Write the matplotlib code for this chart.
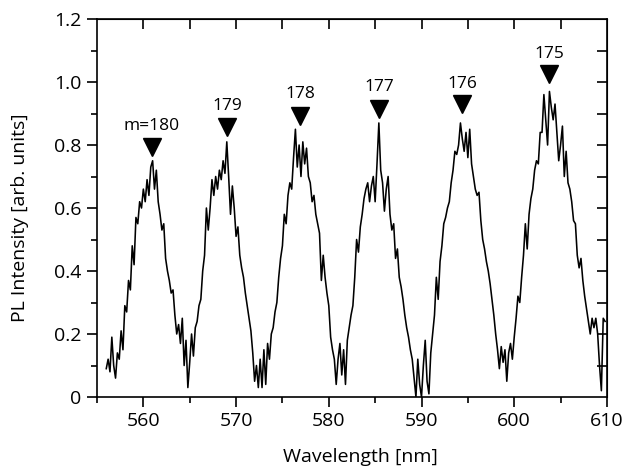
import numpy as np
import matplotlib
matplotlib.use("Agg")
import matplotlib.pyplot as plt
from matplotlib.ticker import FixedLocator, FuncFormatter, MultipleLocator

plt.rcParams['font.family'] = ['Open Sans', 'DejaVu Sans']

# Spectrum sampled every 0.2 nm from 556.0 nm
wl_start, wl_step = 556.0, 0.2
intensity = [
    0.09, 0.12, 0.08, 0.19, 0.10,
    0.06, 0.14, 0.12, 0.21, 0.15,
    0.29, 0.27, 0.37, 0.34, 0.48,
    0.42, 0.57, 0.55, 0.62, 0.60,
    0.66, 0.62, 0.69, 0.64, 0.73,
    0.75, 0.66, 0.72, 0.62, 0.58,
    0.53, 0.55, 0.44, 0.40, 0.37,
    0.33, 0.34, 0.26, 0.20, 0.23,
    0.17, 0.25, 0.10, 0.18, 0.03,
    0.11, 0.20, 0.13, 0.22, 0.24,
    0.29, 0.31, 0.40, 0.45, 0.60,
    0.53, 0.60, 0.69, 0.64, 0.70,
    0.66, 0.72, 0.69, 0.75, 0.71,
    0.81, 0.70, 0.58, 0.67, 0.60,
    0.51, 0.54, 0.45, 0.41, 0.38,
    0.33, 0.29, 0.25, 0.21, 0.14,
    0.05, 0.10, 0.03, 0.12, 0.03,
    0.15, 0.04, 0.17, 0.12, 0.20,
    0.22, 0.27, 0.30, 0.38, 0.44,
    0.48, 0.58, 0.55, 0.64, 0.68,
    0.66, 0.76, 0.85, 0.73, 0.80,
    0.70, 0.81, 0.74, 0.79, 0.70,
    0.68, 0.62, 0.64, 0.58, 0.55,
    0.52, 0.37, 0.45, 0.38, 0.33,
    0.29, 0.19, 0.15, 0.12, 0.04,
    0.12, 0.17, 0.07, 0.15, 0.04,
    0.18, 0.22, 0.26, 0.29, 0.38,
    0.50, 0.46, 0.54, 0.58, 0.63,
    0.66, 0.68, 0.62, 0.67, 0.70,
    0.62, 0.74, 0.87, 0.72, 0.68,
    0.59, 0.66, 0.70, 0.58, 0.53,
    0.55, 0.44, 0.47, 0.38, 0.35,
    0.31, 0.26, 0.22, 0.19, 0.15,
    0.12, 0.06, 0.00, 0.12, 0.04,
    0.00, 0.10, 0.18, 0.05, 0.01,
    0.14, 0.20, 0.26, 0.38, 0.31,
    0.43, 0.48, 0.55, 0.57, 0.60,
    0.62, 0.68, 0.72, 0.78, 0.77,
    0.80, 0.87, 0.82, 0.78, 0.84,
    0.76, 0.85, 0.74, 0.70, 0.66,
    0.64, 0.65, 0.56, 0.50, 0.47,
    0.43, 0.40, 0.36, 0.31, 0.26,
    0.20, 0.15, 0.09, 0.16, 0.11,
    0.15, 0.05, 0.14, 0.17, 0.12,
    0.19, 0.25, 0.32, 0.30, 0.38,
    0.45, 0.55, 0.47, 0.58, 0.63,
    0.66, 0.72, 0.75, 0.74, 0.84,
    0.84, 0.96, 0.88, 0.80, 0.97,
    0.92, 0.88, 0.93, 0.84, 0.75,
    0.80, 0.86, 0.70, 0.78, 0.68,
    0.66, 0.62, 0.56, 0.55, 0.45,
    0.41, 0.44, 0.37, 0.32, 0.28,
    0.24, 0.20, 0.25, 0.22, 0.25,
    0.20, 0.10, 0.02, 0.25, 0.24,
]
wavelength = wl_start + wl_step * np.arange(len(intensity))

peak_labels = ["m=180", "179", "178", "177", "176", "175"]
peak_wl = [560.9, 569.0, 576.9, 585.4, 594.4, 603.8]
marker_y = [0.795, 0.857, 0.893, 0.915, 0.929, 1.024]
label_y = [0.860, 0.924, 0.962, 0.983, 0.993, 1.088]

xticks = [560, 570, 580, 590, 600, 610]
yticks = [0, 0.2, 0.4, 0.6, 0.8, 1.0, 1.2]

fig = plt.figure(figsize=(6.27, 4.68), dpi=100)
ax = fig.add_axes([0.1547, 0.1517, 0.968 - 0.1547, 0.9594 - 0.1517])

ax.plot(wavelength, intensity, color='black', lw=1.15)
ax.plot(peak_wl, marker_y, linestyle='none', marker='v', color='black',
        markersize=12.5)
for x, y, t in zip(peak_wl, label_y, peak_labels):
    ax.text(x, y, t, ha='center', va='center', fontsize=12.5)

ax.set_xlim(555, 610)
ax.set_ylim(0, 1.2)
ax.xaxis.set_major_locator(FixedLocator(xticks))
ax.xaxis.set_minor_locator(MultipleLocator(5))
ax.yaxis.set_major_locator(FixedLocator(yticks))
ax.yaxis.set_minor_locator(MultipleLocator(0.1))
ax.yaxis.set_major_formatter(FuncFormatter(lambda v, p: "0" if abs(v) < 1e-9 else f"{v:.1f}"))

for s in ax.spines.values():
    s.set_linewidth(1.2)
ax.tick_params(which='major', direction='out', length=7, width=1.2, labelsize=14, pad=4)
ax.tick_params(which='minor', direction='out', length=4, width=1.2)

top = ax.secondary_xaxis('top')
top.set_xticks(np.arange(560, 610, 5))
top.tick_params(direction='in', length=7, width=1.2, labeltop=False)
top.xaxis.set_minor_locator(FixedLocator([]))
right = ax.secondary_yaxis('right')
right.set_yticks(np.arange(0.1, 1.2, 0.1))
right.tick_params(direction='in', length=7, width=1.2, labelright=False)
right.yaxis.set_minor_locator(FixedLocator([]))

ax.set_xlabel("Wavelength [nm]", fontsize=14, va='center')
ax.xaxis.set_label_coords(0.516, -0.158)
ax.set_ylabel("PL Intensity [arb. units]", fontsize=14, va='center')
ax.yaxis.set_label_coords(-0.151, 0.474)

fig.savefig("out.png", dpi=100)
